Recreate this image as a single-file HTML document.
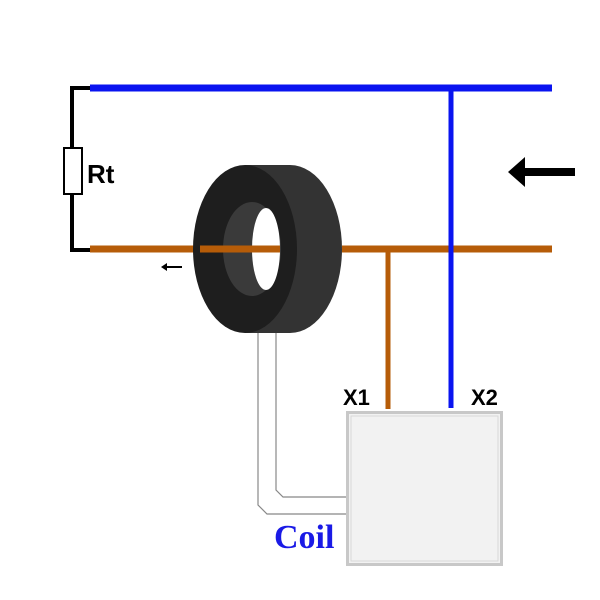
<!DOCTYPE html>
<html><head><style>body{margin:0;background:#fff}svg{display:block}</style></head><body>
<svg width="600" height="600" viewBox="0 0 600 600" xmlns="http://www.w3.org/2000/svg">
<rect width="600" height="600" fill="#fff"/>
<polyline points="90,88 72,88 72,250 90,250" fill="none" stroke="#000" stroke-width="4"/>
<rect x="64" y="148" width="18" height="46" fill="#fff" stroke="#000" stroke-width="2"/>
<text x="87" y="183" font-family="Liberation Sans, sans-serif" font-weight="bold" font-size="26">Rt</text>
<line x1="90" y1="88" x2="552" y2="88" stroke="#0a14f0" stroke-width="7"/>
<line x1="90" y1="249" x2="200" y2="249" stroke="#b65c08" stroke-width="7"/>
<ellipse cx="290" cy="249" rx="52" ry="84" fill="#333"/>
<rect x="245" y="165" width="45" height="168" fill="#333"/>
<ellipse cx="245" cy="249" rx="52" ry="84" fill="#1e1e1e"/>
<ellipse cx="252" cy="249" rx="29" ry="47" fill="#3a3a3a"/>
<ellipse cx="266" cy="249" rx="14" ry="41" fill="#fff"/>
<line x1="200" y1="249" x2="280" y2="249" stroke="#b65c08" stroke-width="7"/>
<line x1="342" y1="249" x2="552" y2="249" stroke="#b65c08" stroke-width="7"/>
<line x1="388" y1="249" x2="388" y2="409" stroke="#b65c08" stroke-width="5"/>
<line x1="451" y1="88" x2="451" y2="408" stroke="#0a14f0" stroke-width="5"/>
<line x1="165" y1="267" x2="182" y2="267" stroke="#000" stroke-width="2"/>
<polygon points="161,267 167,263 167,271" fill="#000"/>
<polygon points="508,172 525,157 525,168 575,168 575,176 525,176 525,187" fill="#000"/>
<polyline points="258,333 258,505 267,514 347,514" fill="none" stroke="#888" stroke-width="1.2"/>
<polyline points="276,333 276,490 283,497 347,497" fill="none" stroke="#888" stroke-width="1.2"/>
<rect x="347.5" y="412.5" width="154" height="152" fill="#f2f2f2" stroke="#c8c8c8" stroke-width="3"/>
<rect x="351" y="416" width="147" height="145" fill="none" stroke="#d8d8d8" stroke-width="1"/>
<text x="343" y="405" font-family="Liberation Sans, sans-serif" font-weight="bold" font-size="22">X1</text>
<text x="471" y="405" font-family="Liberation Sans, sans-serif" font-weight="bold" font-size="22">X2</text>
<text x="274" y="548" font-family="Liberation Serif, serif" font-weight="bold" font-size="34" fill="#1a1ae6">Coil</text>
</svg>
</body></html>
